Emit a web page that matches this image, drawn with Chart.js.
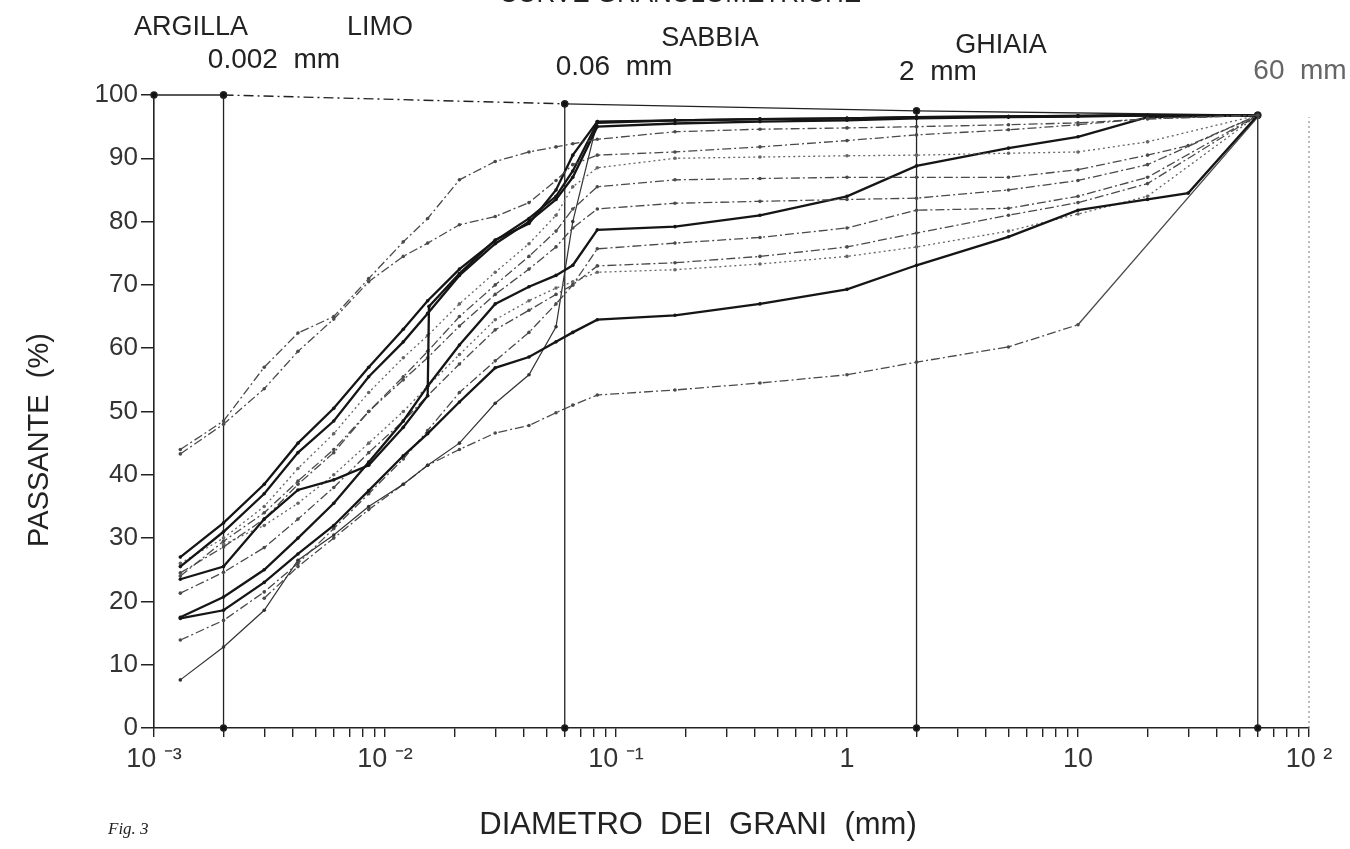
<!DOCTYPE html>
<html>
<head>
<meta charset="utf-8">
<title>Curve granulometriche</title>
<script src="https://cdn.jsdelivr.net/npm/chart.js@4.4.1/dist/chart.umd.min.js"></script>
<style>
    body { margin: 0; background: #fff; }
    canvas { display: block; }
</style>
</head>
<body>
<canvas id="grainChart" width="1350" height="849"></canvas>
<script>
'use strict'

// diametri dei grani (mm) where the curves have points
const diam = [0.0013, 0.002, 0.003, 0.0042, 0.006, 0.0085, 0.012, 0.0153, 0.0155, 0.021, 0.03, 0.042, 0.055, 0.065, 0.083, 0.18, 0.42, 1, 2, 5, 10, 20, 30, 60];

// passante (%) per each sample, null = no reading at that size
const c1 = [44, 48.5, 57, 62.4, 65, 71, 76.8, 80.5, null, 86.6, 89.5, 91, 91.8, 92.3, 93, 94.2, 94.6, 94.8, 95, 95.3, 95.6, 96.2, null, 96.8];
const c2 = [43.3, 48, 53.6, 59.5, 64.6, 70.5, 74.5, 76.6, null, 79.5, 80.8, 83, 86.5, 89, 90.5, 91, 91.8, 92.8, 93.7, 94.5, 95.3, 96.3, null, 96.8];
const c3 = [27, 32.4, 38.5, 45, 50.5, 57, 63, 67.5, null, 72.5, 77, 80.5, 84, 88, 95.6, 96, 96.2, 96.3, 96.5, 96.6, 96.7, 96.8, null, 96.8];
const c4 = [25.5, 31, 37, 43.5, 48.5, 55.5, 61, 65.5, null, 71.5, 76.5, 80, 83.5, 87, 95, 95.5, 95.8, 96, 96.3, 96.5, 96.6, 96.8, null, 96.8];
const c5 = [23.5, 25.5, 33, 37.6, 39.2, 41.5, 47.5, 52.5, 66.6, 71.8, 77.1, 79.7, 85, 90.5, 95.8, 96, 96.2, 96.3, 96.5, 96.6, 96.7, 96.8, null, 96.8];
const c6 = [26, 30, 35, 41, 46.5, 53, 58.5, 62, null, 67, 72, 76.5, 81, 85.5, 88.5, 90, 90.2, 90.4, 90.5, 90.8, 91, 92.6, null, 96.8];
const c7 = [24.5, 28.6, 33, 38.5, 43.5, 50, 55.5, 59.5, null, 65, 70, 74.5, 78.5, 82, 85.5, 86.6, 86.8, 87, 87, 87, 88.2, 90.5, 92, 96.8];
const c8 = [24, 29.5, 34, 39, 44, 50, 55, 58.5, null, 63.5, 68.5, 72.5, 76, 79, 82, 82.9, 83.2, 83.5, 83.7, 85, 86.5, 89, null, 96.8];
const c9 = [17.5, 20.7, 25, 30, 35.5, 42, 48.5, 54, null, 60.5, 67, 69.7, 71.5, 73.1, 78.7, 79.2, 81, 84, 88.8, 91.6, 93.4, 96.5, null, 96.8];
const c10 = [17.3, 18.6, 23, 27.5, 32, 37.5, 43, 46.5, null, 51.5, 56.9, 58.6, 61, 62.5, 64.5, 65.2, 67, 69.3, 73.1, 77.6, 81.8, 83.5, 84.5, 96.8];
const c11 = [13.9, 17, 21.5, 26, 31.5, 37, 42.5, 47, null, 53, 58, 62.5, 67, 70, 75.7, 76.6, 77.5, 79, 81.8, 82.1, 84, 87, null, 96.8];
const c12 = [21.3, 24.6, 28.5, 33, 38, 43.5, 48.5, 52.5, null, 57.5, 62.9, 66, 68.5, 70, 73, 73.5, 74.5, 76, 78.2, 81, 83, 86, null, 96.8];
const c13 = [null, 29, 32, 35.5, 40, 45, 50, 54, null, 59, 64.5, 67.5, 69.5, 70.5, 72, 72.4, 73.3, 74.5, 76, 78.5, 81.2, 84, null, 96.8];
const c14 = [7.6, 12.8, 18.6, 26.5, 30.5, 35, 38.5, 41.5, null, 45, 51.3, 55.8, 63.4, 80, 95.8, 96, 96.2, 96.3, 96.5, 96.6, 96.7, 96.8, null, 96.8];
const c15 = [null, null, 20.5, 25.5, 30, 34.5, 38.5, 41.5, null, 44, 46.6, 47.8, 49.8, 51, 52.6, 53.4, 54.5, 55.8, 57.8, 60.2, 63.7, null, null, 96.5];

// limiti delle classi (mm) and the height of the top frame there
const boundaryMm = [0.002, 0.06, 2, 60];
const boundaryTop = [100, 98.6, 97.5, 96.8];
const frameMm = [0.001, 0.002, 0.06, 2, 60];
const frameTop = [100, 100, 98.6, 97.5, 96.8];

const yTicks = [0, 10, 20, 30, 40, 50, 60, 70, 80, 90, 100];
const decadeLabels = { '0.001': '10 \u207B\u00B3', '0.01': '10 \u207B\u00B2', '0.1': '10 \u207B\u00B9', '1': '1', '10': '10', '100': '10 \u00B2' };

const heavy = { borderColor: '#151515', borderWidth: 2.3, borderDash: [] };
const thin = { borderColor: '#333', borderWidth: 1.2, borderDash: [] };
const dashDot = { borderColor: '#4a4a4a', borderWidth: 1.3, borderDash: [9, 3, 2, 3] };
const dotted = { borderColor: '#666', borderWidth: 1.3, borderDash: [2, 3] };

const FONT = '"Liberation Sans", Arial, sans-serif';

function toPoints(values) {
    let pts = [];
    for (let i = 0; i < diam.length; i++) {
        if (values[i] !== null) pts.push({ x: diam[i], y: values[i] });
    }
    return pts;
}

function curve(values, style) {
    return {
        data: toPoints(values),
        borderColor: style.borderColor,
        backgroundColor: style.borderColor,
        borderWidth: style.borderWidth,
        borderDash: style.borderDash,
        pointRadius: 1.8,
        pointBorderWidth: 0,
        tension: 0,
        fill: false,
        clip: false
    };
}

let datasets = [
    curve(c1, dashDot),
    curve(c2, dashDot),
    curve(c3, heavy),
    curve(c4, heavy),
    curve(c5, heavy),
    curve(c6, dotted),
    curve(c7, dashDot),
    curve(c8, dashDot),
    curve(c9, heavy),
    curve(c10, heavy),
    curve(c11, dashDot),
    curve(c12, dashDot),
    curve(c13, dotted),
    curve(c14, thin),
    curve(c15, dashDot)
];

// last piece of c15 is drawn solid
datasets[14].segment = {
    borderDash: ctx => ctx.p1DataIndex === datasets[14].data.length - 1 ? [] : [9, 3, 2, 3]
};

// top frame
let topPts = [];
for (let i = 0; i < frameMm.length; i++) topPts.push({ x: frameMm[i], y: frameTop[i] });
datasets.push({
    data: topPts,
    borderColor: '#222',
    backgroundColor: '#111',
    borderWidth: 1.4,
    pointRadius: 3,
    tension: 0,
    clip: false,
    segment: { borderDash: ctx => ctx.p0DataIndex === 1 ? [10, 4, 2, 4] : [] }
});

// vertical class limits
for (let i = 0; i < boundaryMm.length; i++) {
    datasets.push({
        data: [{ x: boundaryMm[i], y: 0 }, { x: boundaryMm[i], y: boundaryTop[i] }],
        borderColor: '#222',
        backgroundColor: '#111',
        borderWidth: 1.3,
        pointRadius: 3,
        tension: 0,
        clip: false
    });
}

// right border, dotted
datasets.push({
    data: [{ x: 100, y: 0 }, { x: 100, y: 96.5 }],
    borderColor: '#777',
    borderWidth: 1,
    borderDash: [2, 3],
    pointRadius: 0,
    clip: false
});

let logTicks = [];
for (let e = -3; e < 2; e++) {
    for (let m = 1; m < 10; m++) logTicks.push(+(m * Math.pow(10, e)).toPrecision(3));
}
logTicks.push(100);

const textPlugin = {
    id: 'texts',
    afterDraw(chart) {
        const c = chart.ctx;
        c.save();
        c.fillStyle = '#222';
        c.textAlign = 'center';
        c.textBaseline = 'middle';

        c.font = '26px ' + FONT;
        c.fillText('CURVE GRANULOMETRICHE', 680, -5);

        c.font = '27px ' + FONT;
        c.fillText('ARGILLA', 191, 28);
        c.fillText('LIMO', 380, 28);
        c.fillText('SABBIA', 710, 39);
        c.fillText('GHIAIA', 1001, 46);

        c.font = '28px ' + FONT;
        c.fillText('0.002  mm', 274, 60);
        c.fillText('0.06  mm', 614, 67);
        c.fillText('2  mm', 938, 72);
        c.fillStyle = '#666';
        c.fillText('60  mm', 1300, 71);

        c.fillStyle = '#222';
        c.font = '31px ' + FONT;
        c.fillText('DIAMETRO  DEI  GRANI  (mm)', 698, 825);

        c.font = '29px ' + FONT;
        c.save();
        c.translate(40, 440);
        c.rotate(-Math.PI / 2);
        c.fillText('PASSANTE  (%)', 0, 0);
        c.restore();

        c.font = 'italic 17px "Liberation Serif", serif';
        c.textAlign = 'left';
        c.fillText('Fig. 3', 108, 830);
        c.restore();
    }
};

const ctx = document.getElementById('grainChart').getContext('2d');
const grainChart = new Chart(ctx, {
    type: 'line',
    data: { datasets: datasets },
    options: {
        responsive: false,
        animation: false,
        devicePixelRatio: 1,
        layout: { padding: { top: 95, right: 41, bottom: 0, left: 0 } },
        plugins: {
            legend: { display: false },
            tooltip: { enabled: false }
        },
        scales: {
            x: {
                type: 'logarithmic',
                min: 0.001,
                max: 100,
                afterFit: s => { s.height = 121; },
                afterBuildTicks: s => { s.ticks = logTicks.map(v => ({ value: v })); },
                border: { display: true, color: '#222', width: 1.5 },
                grid: { drawOnChartArea: false, drawTicks: true, tickLength: 9, color: '#222', lineWidth: 1.4 },
                ticks: {
                    autoSkip: false,
                    maxRotation: 0,
                    padding: 6,
                    color: '#333',
                    font: { family: FONT, size: 27 },
                    callback: v => decadeLabels[String(v)] || ''
                }
            },
            y: {
                min: 0,
                max: 100,
                afterFit: s => { s.width = 154; },
                afterBuildTicks: s => { s.ticks = yTicks.map(v => ({ value: v })); },
                border: { display: true, color: '#222', width: 1.6 },
                grid: { drawOnChartArea: false, drawTicks: true, tickLength: 13, color: '#222', lineWidth: 1.5 },
                ticks: {
                    padding: 3,
                    color: '#333',
                    font: { family: FONT, size: 26 }
                }
            }
        }
    },
    plugins: [textPlugin]
});
</script>
</body>
</html>
